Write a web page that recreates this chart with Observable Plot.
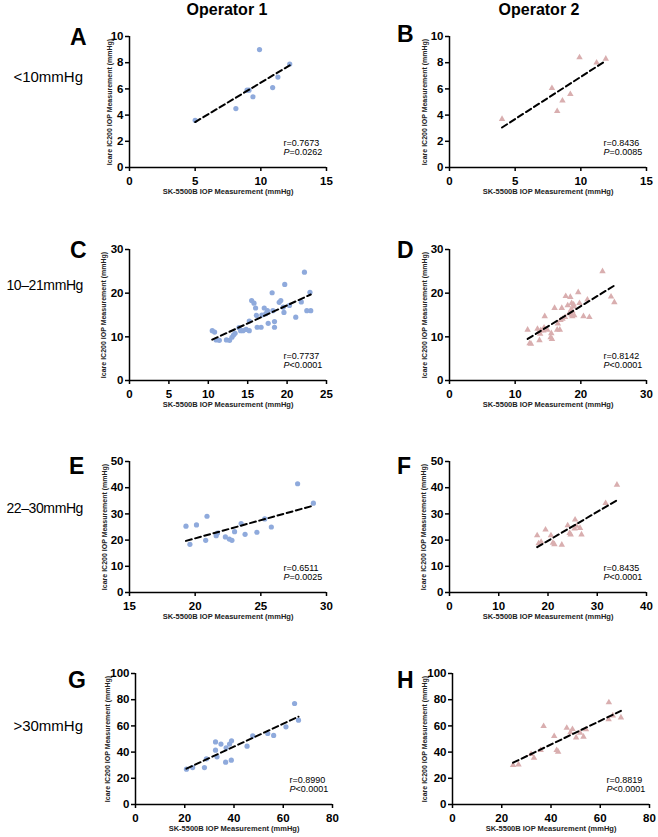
<!DOCTYPE html>
<html><head><meta charset="utf-8">
<script src="https://cdn.jsdelivr.net/npm/d3@7"></script>
<script src="https://cdn.jsdelivr.net/npm/@observablehq/plot@0.6"></script>
<style>
body{margin:0;background:#fff;}
#fig{position:relative;width:658px;height:837px;overflow:hidden;font-family:Arial,"Liberation Sans",sans-serif;background:#fff;}
.lbl{position:absolute;line-height:1;white-space:nowrap;color:#000;}
</style></head><body><div id="fig"></div>
<script>
// ---------- data ----------
const operators = ["Operator 1", "Operator 2"];
const rowLabels = ["<10mmHg", "10–21mmHg", "22–30mmHg", ">30mmHg"];
const panelLetters = ["A","B","C","D","E","F","G","H"];
const xTitle = "SK-5500B IOP Measurement (mmHg)";
const yTitle = "Icare IC200 IOP Measurement (mmHg)";

const a_x = [5.0, 8.1, 8.95, 9.1, 9.4, 9.9, 10.9, 11.3, 12.2];
const a_y = [3.6, 4.5, 5.9, 5.9, 5.4, 9.0, 6.1, 6.9, 7.9];
const b_x = [4.0, 7.8, 8.2, 8.6, 9.2, 9.9, 11.2, 11.9];
const b_y = [3.7, 6.05, 4.3, 5.1, 5.6, 8.4, 8.0, 8.3];
const c_x = [10.5,10.8,11.0,11.4,12.3,12.7,13.0,13.2,13.4,13.9,14.1,14.4,14.8,15.2,15.2,15.5,15.8,16.0,16.1,16.2,16.7,16.8,17.1,17.3,17.5,17.6,18.1,18.2,18.4,18.4,19.0,19.2,19.5,19.6,19.7,20.3,21.1,21.8,22.2,22.5,22.9,23.0];
const c_y = [11.4,11.1,9.3,9.2,9.3,9.2,9.9,10.4,10.8,12.1,11.4,11.4,11.7,11.4,13.6,18.3,17.7,16.6,14.9,12.2,12.2,15.0,16.6,15.3,16.0,13.1,20.1,16.0,13.5,12.2,17.9,18.3,16.8,15.6,22.0,17.2,14.5,18.0,24.8,16.0,20.2,16.0];
const d_x = [11.9,12.2,12.4,13.4,13.6,13.7,13.8,13.9,14.4,14.5,14.9,15.4,15.5,15.6,16.0,16.4,16.5,16.8,17.1,17.2,17.6,17.7,18.0,18.2,18.4,18.5,18.6,18.7,18.9,19.0,19.6,19.8,20.4,21.0,21.3,23.3,24.6,25.1,18.7,18.9,18.6,16.9,14.3];
const d_y = [11.6,8.5,8.4,11.8,11.1,9.2,10.7,11.5,12.1,14.7,11.6,9.9,10.8,9.5,16.6,11.6,13.0,11.6,16.6,14.1,14.5,19.3,17.2,15.3,19.1,16.2,17.7,14.7,16.9,14.9,20.2,17.7,14.7,18.5,14.5,25.0,19.2,17.9,15.9,17.4,15.0,13.8,11.4];
const e_x = [19.3,19.6,20.1,20.8,20.9,21.6,21.7,22.3,22.6,22.8,23.0,23.5,23.8,24.7,25.3,25.8,27.8,29.0];
const e_y = [25.3,18.4,25.8,19.9,29.1,21.7,22.7,21.2,20.4,19.9,23.2,26.3,22.2,23.0,28.1,25.0,41.5,34.1];
const f_x = [17.8,18.1,18.6,19.5,20.6,21.0,21.3,22.8,24.0,24.4,24.6,25.4,25.5,25.8,26.5,26.8,31.7,34.0];
const f_y = [21.8,18.7,19.3,24.0,21.8,18.9,18.4,18.2,25.6,22.7,22.1,24.4,27.8,25.4,24.6,22.1,34.1,41.1];
const g_x = [20.7,23.2,28.0,28.8,32.5,32.5,33.1,34.7,36.6,36.8,38.2,38.9,39.0,45.3,47.6,53.7,56.1,61.1,64.6,66.2];
const g_y = [27.0,28.2,28.2,34.9,47.8,41.5,36.4,46.1,32.3,43.3,46.1,33.8,48.6,44.5,52.4,54.2,52.7,59.3,77.1,64.4];
const h_x = [24.6,26.8,31.9,33.1,35.8,37.0,41.3,42.3,42.9,46.4,47.9,48.7,50.2,51.8,53.2,54.2,63.4,63.5,65.1,68.4];
const h_y = [30.0,30.5,38.4,35.6,41.5,59.8,52.2,41.5,40.2,58.5,55.0,57.5,51.1,54.7,51.7,57.3,64.9,77.9,67.9,66.4];

const rValues = ["0.7673","0.8436","0.7737","0.8142","0.6511","0.8435","0.8990","0.8819"];
const pValues = ["=0.0262","=0.0085","<0.0001","<0.0001","=0.0025","<0.0001","<0.0001","<0.0001"];

const xTicksA = [0,5,10,15], yTicksA = [0,2,4,6,8,10];
const xTicksC = [0,5,10,15,20,25], xTicksD = [0,10,20,30], yTicksCD = [0,10,20,30];
const xTicksE = [15,20,25,30], xTicksF = [0,10,20,30,40], yTicksEF = [0,10,20,30,40,50];
const xTicksGH = [0,20,40,60,80], yTicksGH = [0,20,40,60,80,100];

// ---------- layout ----------
const ML = 45, MT = 8, MR = 14, MB = 38, PW = 197, PH = 131;
const panels = [
  {xs:a_x, ys:a_y, xt:xTicksA,  yt:yTicksA,  op:0, left:128.5, top:36,  yl:20},
  {xs:b_x, ys:b_y, xt:xTicksA,  yt:yTicksA,  op:1, left:448.7, top:36,  yl:25},
  {xs:c_x, ys:c_y, xt:xTicksC,  yt:yTicksCD, op:0, left:128.5, top:249, yl:26},
  {xs:d_x, ys:d_y, xt:xTicksD,  yt:yTicksCD, op:1, left:448.7, top:249, yl:25},
  {xs:e_x, ys:e_y, xt:xTicksE,  yt:yTicksEF, op:0, left:128.5, top:461, yl:25},
  {xs:f_x, ys:f_y, xt:xTicksF,  yt:yTicksEF, op:1, left:449,   top:461, yl:26},
  {xs:g_x, ys:g_y, xt:xTicksGH, yt:yTicksGH, op:0, left:135,   top:673, yl:28},
  {xs:h_x, ys:h_y, xt:xTicksGH, yt:yTicksGH, op:1, left:452,   top:673, yl:28}
];
const fig = document.getElementById("fig");
const FONT = 'Arial, "Liberation Sans", sans-serif';

panels.forEach((p, i) => {
  const data = p.xs.map((x, k) => ({x, y: p.ys[k]}));
  const fill = p.op === 0 ? "#8FAADC" : "#D9AEAF";
  const chart = Plot.plot({
    width: PW + ML + MR, height: PH + MT + MB,
    marginLeft: ML, marginTop: MT, marginRight: MR, marginBottom: MB,
    style: {background: "transparent", fontFamily: FONT, color: "#000", overflow: "visible"},
    x: {domain: [p.xt[0], p.xt[p.xt.length - 1]]},
    y: {domain: [p.yt[0], p.yt[p.yt.length - 1]]},
    marks: [
      Plot.dot(data, {x: "x", y: "y", r: p.op === 0 ? 2.6 : 2.4, fill, symbol: p.op === 0 ? "circle" : "triangle"}),
      Plot.linearRegressionY(data, {x: "x", y: "y", stroke: "#000", strokeWidth: 2, strokeDasharray: "6,3.5", ci: 0}),
      Plot.axisX({ticks: p.xt, tickSize: 4, tickPadding: 5, strokeWidth: 1.5, fontSize: 11.5, fontWeight: "bold", label: null, tickFormat: d => String(d)}),
      Plot.axisY({ticks: p.yt, tickSize: 4, tickPadding: 2, strokeWidth: 1.5, fontSize: 11.5, fontWeight: "bold", label: null, tickFormat: d => String(d)}),
      Plot.ruleX([p.xt[0]], {strokeWidth: 1.5}),
      Plot.ruleY([p.yt[0]], {strokeWidth: 1.5}),
      Plot.text([xTitle], {text: d => d, frameAnchor: "bottom", textAnchor: "middle", dy: 26, fontSize: 7.5, fontWeight: "bold", fill: "#222"}),
      Plot.text([yTitle], {text: d => d, frameAnchor: "left", textAnchor: "middle", lineAnchor: "middle", dx: -p.yl, rotate: -90, fontSize: 7, fontWeight: "bold", fill: "#222"}),
      Plot.text(["r=" + rValues[i]], {text: d => d, frameAnchor: "bottom-right", textAnchor: "start", dx: -43, dy: -22, fontSize: 9}),
      Plot.text(["P"], {text: d => d, frameAnchor: "bottom-right", textAnchor: "start", dx: -43, dy: -12.5, fontSize: 9, fontStyle: "italic"}),
      Plot.text([pValues[i]], {text: d => d, frameAnchor: "bottom-right", textAnchor: "start", dx: -37, dy: -12.5, fontSize: 9})
    ]
  });
  chart.style.position = "absolute";
  chart.style.left = (p.left - ML) + "px";
  chart.style.top = (p.top - MT) + "px";
  fig.appendChild(chart);
});

function label(text, {x, cy, size, weight = "normal", align = "left", spacing = 0}) {
  const el = document.createElement("div");
  el.className = "lbl";
  el.textContent = text;
  el.style.fontSize = size + "px";
  el.style.fontWeight = weight;
  el.style.letterSpacing = spacing + "px";
  el.style.top = (cy - size / 2) + "px";
  if (align === "center") { el.style.left = x + "px"; el.style.transform = "translateX(-50%)"; }
  else if (align === "right") { el.style.right = (658 - x) + "px"; }
  else { el.style.left = x + "px"; }
  fig.appendChild(el);
}
label(operators[0], {x: 227, cy: 9.5, size: 16, weight: "bold", align: "center"});
label(operators[1], {x: 539, cy: 9.5, size: 16, weight: "bold", align: "center"});
const letterPos = [[70,37],[397,34],[70,250],[397,250],[69,466.5],[397,466.5],[68,680.5],[397,680]];
panelLetters.forEach((t, i) => label(t, {x: letterPos[i][0], cy: letterPos[i][1], size: 23, weight: "bold"}));
const rowCy = [76, 285, 508, 725];
const rowSize = [15, 14, 14, 15];
const rowSpacing = [0, -0.4, -0.4, 0];
rowLabels.forEach((t, i) => label(t, {x: 83, cy: rowCy[i], size: rowSize[i], align: "right", spacing: rowSpacing[i]}));
</script></body></html>
